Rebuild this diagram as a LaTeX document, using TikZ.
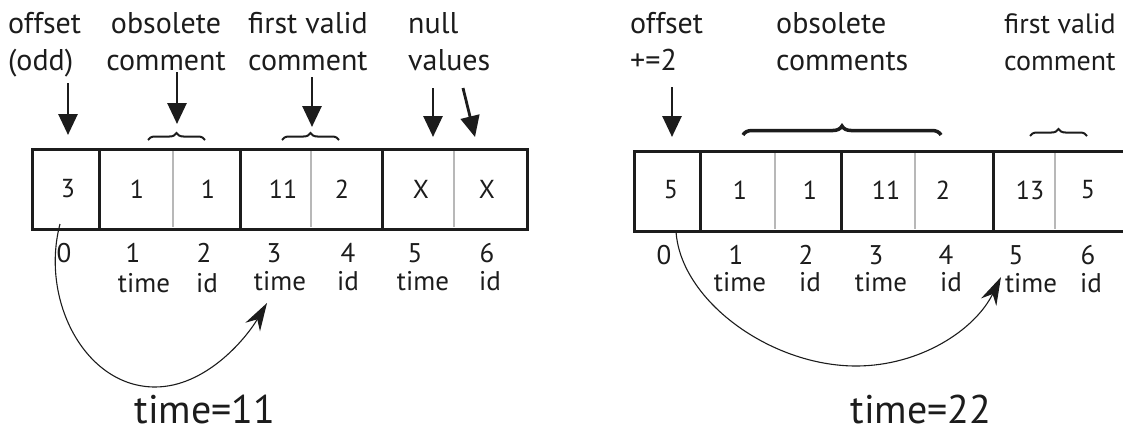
\documentclass[tikz,border=0pt]{standalone}
\usepackage{fontspec}
\setmainfont{PT Sans}
\usepackage{xcolor}
\definecolor{bufInk}{HTML}{1C1C1C}
\definecolor{bufGray}{HTML}{B8B8B8}
\usepackage{tikz}
\usetikzlibrary{arrows.meta,decorations.pathreplacing}

\begin{document}
\begin{tikzpicture}[x=1pt,y=-1pt,>=Stealth,text=bufInk]
  \tikzset{
    toplabel/.style={inner sep=0pt,font=\fontsize{30}{37}\selectfont},
    cellnum/.style={inner sep=0pt,font=\fontsize{26}{30}\selectfont},
    idxnum/.style={inner sep=0pt,font=\fontsize{27}{30}\selectfont},
    timelabel/.style={inner sep=0pt,font=\fontsize{40}{46}\selectfont},
    framebox/.style={draw=bufInk,line width=3pt},
    slotline/.style={draw=bufGray,line width=2pt},
    pointer/.style={draw=bufInk,line width=2.8pt,-{Triangle[length=21pt,width=19pt]}},
    jump/.style={draw=bufInk,line width=1.1pt,-{Stealth[length=28pt,width=17pt,inset=9pt]}},
    smallbrace/.style={draw=bufInk,line width=2pt,decorate,decoration={brace,amplitude=7pt}},
    bigbrace/.style={draw=bufInk,line width=3.5pt,decorate,decoration={brace,amplitude=9pt}}
  }
  \path[use as bounding box] (0,0) rectangle (1123,436);

  % left buffer, time=11
  \node[toplabel,anchor=north west,align=left] (offL) at (8,12) {offset\\(odd)};
  \node[toplabel,anchor=north,align=center] (obsL) at (166,12) {obsolete\\comment};
  \node[toplabel,anchor=north west,align=left] (validL) at (248,12) {first valid\\comment};
  \node[toplabel,anchor=north west,align=left] (nullL) at (408,12) {null\\values};

  \draw[framebox] (32,149) rectangle (527,229);
  \draw[framebox] (99,149) -- (99,229);
  \draw[framebox] (240,149) -- (240,229);
  \draw[framebox] (382,149) -- (382,229);
  \draw[slotline] (173,151) -- (173,227);
  \draw[slotline] (311,151) -- (311,227);
  \draw[slotline] (454,151) -- (454,227);

  \node[cellnum] (c0L) at (68,189) {3};
  \node[cellnum] (c1L) at (137,189) {1};
  \node[cellnum] (c2L) at (208,189) {1};
  \node[cellnum] (c3L) at (283,189) {11};
  \node[cellnum] (c4L) at (342,189) {2};
  \node[cellnum] (c5L) at (421,189) {X};
  \node[cellnum] (c6L) at (487,189) {X};

  \node[idxnum] (i0L) at (64,253) {0};
  \node[idxnum] (i1L) at (133,253) {1};
  \node[idxnum] (i2L) at (204,253) {2};
  \node[idxnum] (i3L) at (274,253) {3};
  \node[idxnum] (i4L) at (348,253) {4};
  \node[idxnum] (i5L) at (415,253) {5};
  \node[idxnum] (i6L) at (487,253) {6};
  \node[idxnum] (w1L) at (144,283) {time};
  \node[idxnum] (w2L) at (207,283) {id};
  \node[idxnum] (w3L) at (280,281) {time};
  \node[idxnum] (w4L) at (348,281) {id};
  \node[idxnum] (w5L) at (423,281) {time};
  \node[idxnum] (w6L) at (490,281) {id};

  \coordinate (pOffL) at (68,83);
  \coordinate (pObsL) at (177,72);
  \coordinate (pValidL) at (312,77);
  \coordinate (pNullAL) at (433,88);
  \coordinate (pNullBL) at (463,88);
  \draw[pointer] (pOffL) -- (68,135);
  \draw[pointer] (pObsL) -- (177,124);
  \draw[pointer] (pValidL) -- (312,127);
  \draw[pointer] (pNullAL) -- (433,137);
  \draw[pointer] (pNullBL) -- (475,137);
  \draw[smallbrace] (148,140) -- (205,140);
  \draw[smallbrace] (282,140) -- (339,140);

  \coordinate (fromL) at (60,224);
  \coordinate (toL) at (267,303);
  \draw[jump] (fromL) .. controls (40,300) and (85,387) .. (155,387)
    .. controls (205,387) and (245,340) .. (toL);
  \node[timelabel,anchor=base] (timeL) at (205,423) {time=11};

  % right buffer, time=22
  \node[toplabel,anchor=north west,align=left] (offR) at (630,12) {offset\\+=2};
  \node[toplabel,anchor=north west,align=left] (obsR) at (776,12) {obsolete\\comments};
  \node[toplabel,anchor=north west,align=left,font=\fontsize{28}{37}\selectfont] (validR) at (1004,13) {first valid\\comment};

  \draw[framebox] (1125,151) -- (634,151) -- (634,231) -- (1125,231);
  \draw[framebox] (700,151) -- (700,231);
  \draw[framebox] (841,151) -- (841,231);
  \draw[framebox] (993,151) -- (993,231);
  \draw[slotline] (775,153) -- (775,229);
  \draw[slotline] (915,153) -- (915,229);
  \draw[slotline] (1055,153) -- (1055,229);

  \node[cellnum] (c0R) at (671,190) {5};
  \node[cellnum] (c1R) at (740,190) {1};
  \node[cellnum] (c2R) at (810,190) {1};
  \node[cellnum] (c3R) at (886,190) {11};
  \node[cellnum] (c4R) at (943,190) {2};
  \node[cellnum] (c5R) at (1030,190) {13};
  \node[cellnum] (c6R) at (1088,190) {5};

  \node[idxnum] (i0R) at (664,255) {0};
  \node[idxnum] (i1R) at (736,255) {1};
  \node[idxnum] (i2R) at (806,255) {2};
  \node[idxnum] (i3R) at (876,255) {3};
  \node[idxnum] (i4R) at (946,255) {4};
  \node[idxnum] (i5R) at (1016,255) {5};
  \node[idxnum] (i6R) at (1088,255) {6};
  \node[idxnum] (w1R) at (740,282) {time};
  \node[idxnum] (w2R) at (810,282) {id};
  \node[idxnum] (w3R) at (881,282) {time};
  \node[idxnum] (w4R) at (951,282) {id};
  \node[idxnum] (w5R) at (1031,283) {time};
  \node[idxnum] (w6R) at (1091,283) {id};

  \coordinate (pOffR) at (672,87);
  \draw[pointer] (pOffR) -- (672,137);
  \draw[bigbrace] (743,135) -- (941,135);
  \draw[smallbrace] (1030,136) -- (1087,136);

  \coordinate (fromR) at (676,231);
  \coordinate (toR) at (1001,277);
  \draw[jump] (fromR) .. controls (680,300) and (770,366) .. (856,366)
    .. controls (920,366) and (975,330) .. (toR);
  \node[timelabel,anchor=base] (timeR) at (921,423) {time=22};
\end{tikzpicture}
\end{document}
